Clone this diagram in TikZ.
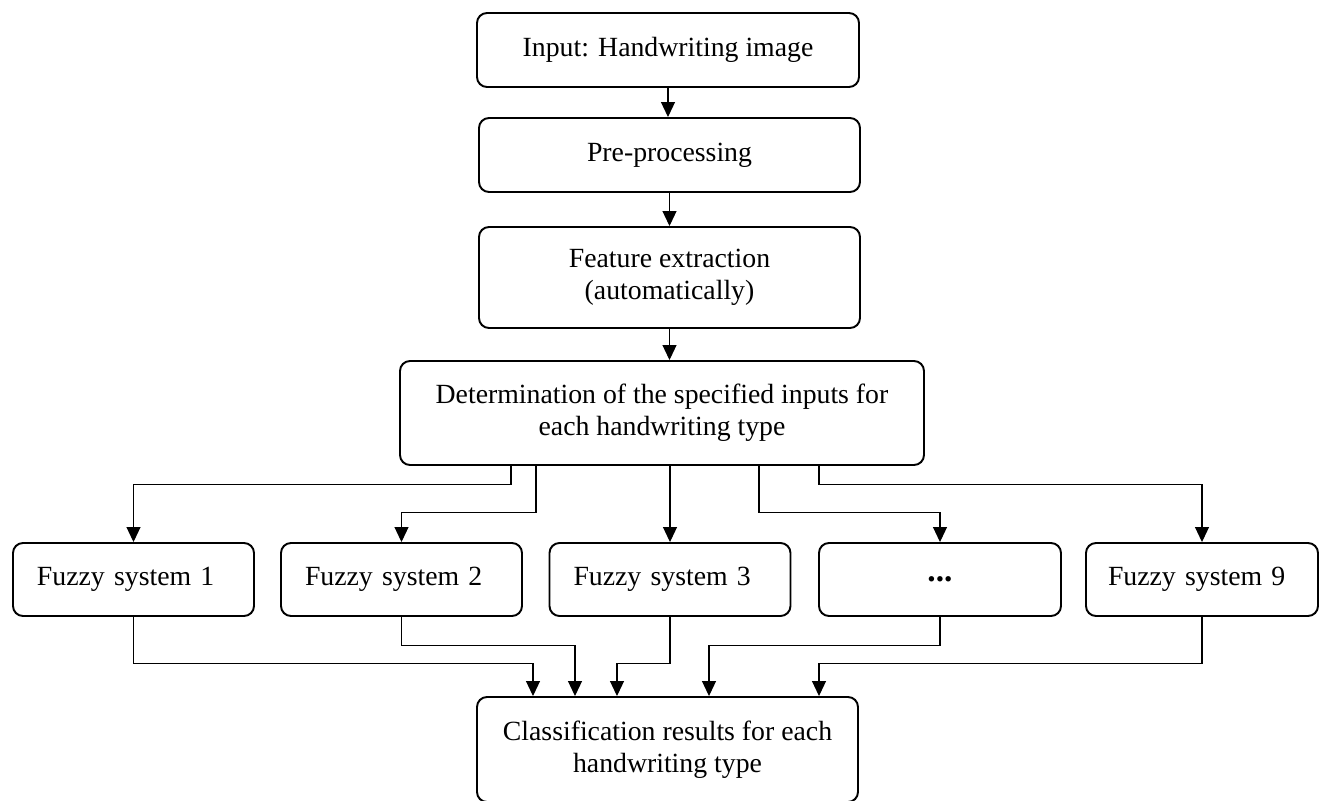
\documentclass[tikz,border=0pt]{standalone}
\usepackage{fontspec}
\setmainfont{Liberation Serif}
\usetikzlibrary{arrows.meta}

\begin{document}
\begin{tikzpicture}[x=0.2mm,y=-0.2mm,
  every node/.style={font=\fontsize{15.8}{18.2}\selectfont},
  box/.style={draw,line width=1.1pt,rounded corners=2mm,align=center,inner sep=0pt},
  fbox/.style={box,minimum width=48.2mm,minimum height=14.6mm,text width=38.6mm,align=left},
  arr/.style={-{Triangle[length=3mm,width=2.8mm]},line width=0.6pt}]
\useasboundingbox (0,0) rectangle (1319,801);
% main chain
\node[box,minimum width=76.4mm,minimum height=14.8mm] (inp) at (668,50) {Input: Handwriting image};
\node[box,minimum width=76.2mm,minimum height=14.8mm] (pre) at (669.5,155) {Pre-processing};
\node[box,minimum width=76.2mm,minimum height=20.2mm] (feat) at (669.5,277.5) {Feature extraction\\(automatically)};
\node[box,minimum width=104.8mm,minimum height=20.8mm] (det) at (662,413) {Determination of the specified inputs for\\each handwriting type};
% fuzzy systems
\node[fbox] (fs1) at (133.5,579.5) {Fuzzy system 1};
\node[fbox] (fs2) at (401.5,579.5) {Fuzzy system 2};
\node[fbox] (fs3) at (670,579.5) {Fuzzy system 3};
\node[box,minimum width=48.4mm,minimum height=14.6mm,font=\fontsize{19}{20}\selectfont\bfseries] (dots) at (940,579.5) {...};
\node[fbox,minimum width=46.4mm,text width=37.6mm] (fs9) at (1202,579.5) {Fuzzy system 9};
\node[box,minimum width=76.2mm,minimum height=21mm] (res) at (667.5,749.5) {Classification results for each\\handwriting type};

\draw[arr] (inp.south) -- (inp.south |- pre.north);
\draw[arr] (pre.south) -- (pre.south |- feat.north);
\draw[arr] (feat.south) -- (feat.south |- det.north);

\draw[arr] ([xshift=-30.2mm]det.south) -- ++(0,19) -| (fs1.north);
\draw[arr] ([xshift=-25.2mm]det.south) -- ++(0,47) -| (fs2.north);
\draw[arr] (det.south -| fs3.north) -- (fs3.north);
\draw[arr] ([xshift=19.4mm]det.south) -- ++(0,47) -| (dots.north);
\draw[arr] ([xshift=31.4mm]det.south) -- ++(0,19) -| (fs9.north);

\draw[arr] (fs1.south) -- ++(0,47) -| ([xshift=-26.9mm]res.north);
\draw[arr] (fs2.south) -- ++(0,29) -| ([xshift=-18.5mm]res.north);
\draw[arr] (fs3.south) -- ++(0,47) -| ([xshift=-10.1mm]res.north);
\draw[arr] (dots.south) -- ++(0,29) -| ([xshift=8.3mm]res.north);
\draw[arr] (fs9.south) -- ++(0,47) -| ([xshift=30.3mm]res.north);
\end{tikzpicture}
\end{document}
